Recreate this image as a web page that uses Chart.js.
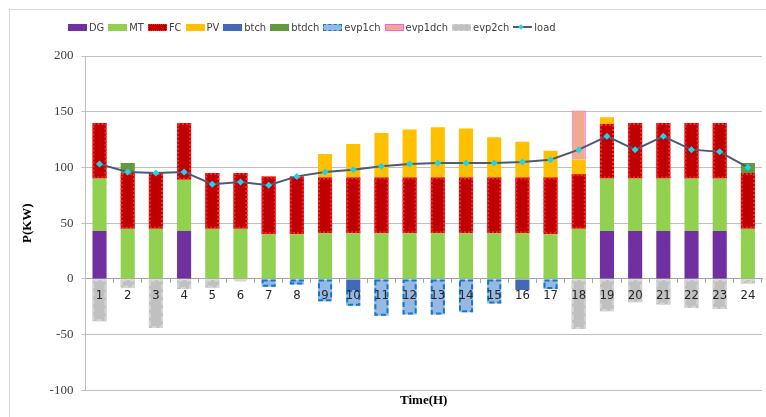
<!DOCTYPE html>
<html>
<head>
<meta charset="utf-8">
<script src="https://cdn.jsdelivr.net/npm/chart.js@4/dist/chart.umd.min.js"></script>
<style>
  html, body { margin: 0; padding: 0; background: #fff; overflow: hidden; }
  #wrap { position: relative; width: 766px; height: 417px; }
  #frame { position: absolute; left: 9px; top: 9px; width: 780px; height: 430px; border: 1px solid #D9D9D9; box-sizing: border-box; pointer-events: none; }
  #legend { position: absolute; left: 68px; top: 21px; display: flex; align-items: center;
    font: 11px "Liberation Sans Narrow", "DejaVu Sans Condensed", Arial, sans-serif; color: #404040; }
  .item { display: flex; align-items: center; margin-right: 4px; white-space: nowrap; }
  .box { width: 19px; height: 7px; margin-right: 2px; box-sizing: border-box; }
  .line { position: relative; width: 19px; height: 7px; margin-right: 2px; }
  .line::before { content: ''; position: absolute; left: 0; right: 0; top: 2px; height: 2px; background: #4A5B72; }
  .line::after { content: ''; position: absolute; left: 6px; top: 0.5px; width: 4px; height: 4px; background: #1FD3E8; transform: rotate(45deg); }
  canvas { position: absolute; left: 0; top: 0; }
</style>
</head>
<body>
<div id="wrap">
  <canvas id="chart" width="766" height="417"></canvas>
  <div id="frame"></div>
  <div id="legend"></div>
</div>
<script>
// hours on the x axis
const hours = ['1','2','3','4','5','6','7','8','9','10','11','12','13','14','15','16','17','18','19','20','21','22','23','24'];

// power of each source per hour (kW)
const DG      = [43, 0, 0, 43, 0, 0, 0, 0, 0, 0, 0, 0, 0, 0, 0, 0, 0, 0, 43, 43, 43, 43, 43, 0];
const MT      = [47, 45, 45, 46, 45, 45, 40, 40, 41, 41, 41, 41, 41, 41, 41, 41, 40, 45, 47, 47, 47, 47, 47, 45];
const FC      = [50, 50, 50, 51, 50, 50, 52, 52, 50, 50, 50, 50, 50, 50, 50, 50, 51, 49, 49, 50, 50, 50, 50, 50];
const PV      = [0, 0, 0, 0, 0, 0, 0, 0, 21, 30, 40, 43, 45, 44, 36, 32, 24, 13, 6, 0, 0, 0, 0, 0];
const btch    = [0, 0, 0, 0, 0, 0, 0, 0, 0, -10, 0, 0, 0, 0, 0, -10, 0, 0, 0, 0, 0, 0, 0, 0];
const btdch   = [0, 9, 0, 0, 0, 0, 0, 0, 0, 0, 0, 0, 0, 0, 0, 0, 0, 0, 0, 0, 0, 0, 0, 9];
const evp1ch  = [0, 0, 0, 0, 0, 0, -7, -5, -20, -14, -33, -32, -32, -30, -22, 0, -9, 0, 0, 0, 0, 0, 0, 0];
const evp1dch = [0, 0, 0, 0, 0, 0, 0, 0, 0, 0, 0, 0, 0, 0, 0, 0, 0, 44, 0, 0, 0, 0, 0, 0];
const evp2ch  = [-38, -8, -44, -9, -8, -1, 0, 0, 0, 0, 0, 0, 0, 0, 0, 0, 0, -45, -29, -21, -23, -26, -27, -4];
const load    = [103, 96, 95, 96, 85, 87, 84, 92, 96, 98, 101, 103, 104, 104, 104, 105, 107, 116, 128, 116, 128, 116, 114, 100];

// y axis range and step
const yMin = -100, yMax = 200, yStep = 50;

/* styles of each series */
const look = {
  DG:      { fill: '#7030A0' },
  MT:      { fill: '#92D050' },
  FC:      { fill: '#C00000', dash: { color: '#FF2A2A', width: 2, pattern: [2, 2] } },
  PV:      { fill: '#FFC000' },
  btch:    { fill: '#4169B5' },
  btdch:   { fill: '#62993E' },
  evp1ch:  { fill: '#95B9E3', dash: { color: '#1478C8', width: 2, pattern: [5, 3] } },
  evp1dch: { fill: '#F2AA8E', border: '#F060F0' },
  evp2ch:  { fill: '#C0C0C0', dash: { color: '#D6D6D6', width: 2, pattern: [5, 3] } }
};

function bar(name, values) {
  const s = look[name];
  return {
    type: 'bar',
    label: name,
    data: values,
    backgroundColor: s.fill,
    borderColor: s.border || s.fill,
    borderWidth: s.border ? 1 : 0,
    dash: s.dash,
    barPercentage: 0.5,
    categoryPercentage: 1.0,
    order: 1
  };
}

/* dashed / dotted outline for some bars (Chart.js bars have no borderDash) */
const dashBorder = {
  id: 'dashBorder',
  afterDatasetDraw(chart, args) {
    const ds = chart.data.datasets[args.index];
    if (!ds.dash) return;
    const ctx = chart.ctx;
    ctx.save();
    ctx.strokeStyle = ds.dash.color;
    ctx.lineWidth = ds.dash.width;
    ctx.setLineDash(ds.dash.pattern);
    args.meta.data.forEach((el, j) => {
      if (!ds.data[j]) return;
      const p = el.getProps(['x', 'y', 'base', 'width'], true);
      const top = Math.min(p.y, p.base);
      const h = Math.abs(p.base - p.y);
      const w = ds.dash.width / 2;
      ctx.strokeRect(p.x - p.width / 2 + w, top + w, p.width - 2 * w, Math.max(h - 2 * w, 0));
    });
    ctx.restore();
  }
};

const serif = 'Liberation Serif, Times New Roman, serif';
const narrow = '"Liberation Sans Narrow", "DejaVu Sans Condensed", Arial, sans-serif';

new Chart(document.getElementById('chart'), {
  data: {
    labels: hours,
    datasets: [
      {
        type: 'line',
        label: 'load',
        data: load,
        borderColor: '#4A5B72',
        borderWidth: 2,
        pointStyle: 'rectRot',
        pointRadius: 3.5,
        pointBackgroundColor: '#1FD3E8',
        pointBorderColor: '#1FD3E8',
        pointBorderWidth: 0,
        tension: 0,
        stack: 'load',
        order: 0
      },
      bar('DG', DG),
      bar('MT', MT),
      bar('FC', FC),
      bar('PV', PV),
      bar('btch', btch),
      bar('btdch', btdch),
      bar('evp1ch', evp1ch),
      bar('evp1dch', evp1dch),
      bar('evp2ch', evp2ch)
    ]
  },
  options: {
    responsive: false,
    animation: false,
    layout: { padding: { left: 20, top: 56, right: 2, bottom: 9 } },
    plugins: {
      legend: { display: false },
      tooltip: { enabled: false }
    },
    scales: {
      x: {
        stacked: true,
        position: { y: 0 },
        grid: { display: true, drawOnChartArea: false, offset: true, tickLength: 4, color: '#A6A6A6' },
        border: { color: '#A6A6A6' },
        // z: 1 -> hour labels sit on top of the negative bars
        ticks: { z: 1, color: '#262626', font: { family: narrow, size: 13 }, padding: 5, maxRotation: 0 }
      },
      x2: {
        type: 'category',
        position: 'bottom',
        grid: { display: false, drawTicks: false },
        border: { display: false },
        ticks: { display: false },
        title: { display: true, text: 'Time(H)', color: '#000', font: { family: serif, size: 13, weight: 'bold' }, padding: { top: 2, bottom: 0 } }
      },
      y: {
        stacked: true,
        min: yMin,
        max: yMax,
        ticks: { stepSize: yStep, color: '#404040', font: { family: serif, size: 13 }, padding: 8 },
        grid: { color: '#BFBFBF', tickLength: 4 },
        border: { color: '#BFBFBF' },
        title: { display: true, text: 'P(KW)', color: '#000', font: { family: serif, size: 13, weight: 'bold' }, padding: { top: 0, bottom: 6 } }
      }
    }
  },
  plugins: [dashBorder]
});

/* legend in HTML, same order as the picture */
const legend = document.getElementById('legend');
['DG', 'MT', 'FC', 'PV', 'btch', 'btdch', 'evp1ch', 'evp1dch', 'evp2ch'].forEach(name => {
  const s = look[name];
  const item = document.createElement('div');
  item.className = 'item';
  const box = document.createElement('span');
  box.className = 'box';
  box.style.background = s.fill;
  if (s.dash) box.style.border = (s.dash.pattern[0] > 2 ? '1px dashed ' : '1px dotted ') + s.dash.color;
  if (s.border) box.style.border = '1px solid ' + s.border;
  item.appendChild(box);
  item.appendChild(document.createTextNode(name));
  legend.appendChild(item);
});
const loadItem = document.createElement('div');
loadItem.className = 'item';
loadItem.innerHTML = '<span class="line"></span>load';
legend.appendChild(loadItem);
</script>
</body>
</html>
